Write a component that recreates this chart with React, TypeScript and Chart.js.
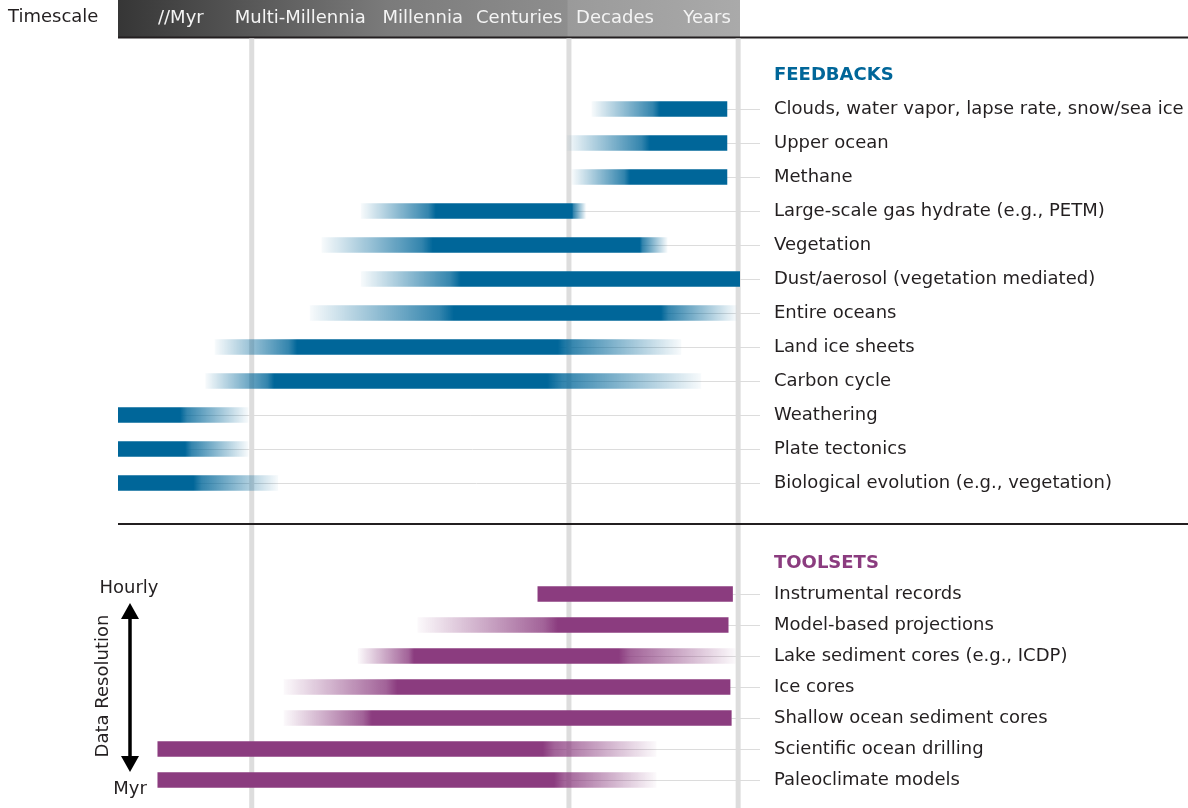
import React, { useEffect, useRef } from 'react';
import { Chart, registerables } from 'chart.js';

Chart.register(...registerables);

const FONT = '"DejaVu Sans", "Open Sans", sans-serif';
const TEXT = '#231f20';
const BLUE = '0,102,153';
const PURPLE = '139,60,127';

// Timescale header (x position on an abstract 0-100 timescale axis)
const timescaleTitle = 'Timescale';
const timescaleLabels = ['//Myr', 'Multi-Millennia', 'Millennia', 'Centuries', 'Decades', 'Years'];
const timescalePositions = [10.1, 29.3, 49.0, 64.5, 79.9, 94.7];
const timescaleBoundaries = [21.5, 72.5, 99.7];

// Feedbacks
const feedbackTitle = 'FEEDBACKS';
const feedbackLabels = [
  'Clouds, water vapor, lapse rate, snow/sea ice',
  'Upper ocean',
  'Methane',
  'Large-scale gas hydrate (e.g., PETM)',
  'Vegetation',
  'Dust/aerosol (vegetation mediated)',
  'Entire oceans',
  'Land ice sheets',
  'Carbon cycle',
  'Weathering',
  'Plate tectonics',
  'Biological evolution (e.g., vegetation)',
];
const feedbackStart = [76.2, 72.2, 73.0, 39.1, 32.8, 39.1, 30.9, 15.6, 14.1, 0, 0, 0];
const feedbackSolidFrom = [87.1, 85.5, 82.3, 51.1, 50.6, 55.1, 54.0, 28.8, 25.1, 0, 0, 0];
const feedbackSolidTo = [97.9, 97.9, 97.9, 73.0, 83.9, 100, 87.3, 70.7, 69.0, 10.0, 10.8, 12.1];
const feedbackEnd = [97.9, 97.9, 97.9, 75.2, 88.3, 100, 99.4, 90.5, 93.7, 20.9, 20.9, 25.7];

// Toolsets
const toolsetTitle = 'TOOLSETS';
const toolsetLabels = [
  'Instrumental records',
  'Model-based projections',
  'Lake sediment cores (e.g., ICDP)',
  'Ice cores',
  'Shallow ocean sediment cores',
  'Scientific ocean drilling',
  'Paleoclimate models',
];
const toolsetStart = [67.5, 48.2, 38.6, 26.7, 26.7, 6.4, 6.4];
const toolsetSolidFrom = [67.5, 70.7, 47.6, 44.9, 40.8, 6.4, 6.4];
const toolsetSolidTo = [98.8, 98.1, 80.5, 98.4, 98.6, 68.3, 70.1];
const toolsetEnd = [98.8, 98.1, 99.2, 98.4, 98.6, 86.5, 86.5];

// Data resolution annotation
const resolutionTitle = 'Data Resolution';
const resolutionHigh = 'Hourly';
const resolutionLow = 'Myr';

const GUIDE_END = 760;

function makeFill(rgb: string, starts: number[], solidFrom: number[], solidTo: number[], ends: number[]) {
  return (ctx: any) => {
    const solid = `rgb(${rgb})`;
    if (ctx.type !== 'data') return solid;
    const chart = ctx.chart;
    const xs = chart.scales && chart.scales.x;
    if (!xs || !chart.chartArea) return solid;
    const i = ctx.dataIndex;
    const x0 = xs.getPixelForValue(starts[i]);
    const x1 = xs.getPixelForValue(ends[i]);
    const a = xs.getPixelForValue(solidFrom[i]);
    const b = xs.getPixelForValue(solidTo[i]);
    if (![x0, x1, a, b].every((v) => Number.isFinite(v))) return solid;
    const len = Math.max(1, x1 - x0);
    const c = (al: number) => `rgba(${rgb},${al})`;
    const g = chart.ctx.createLinearGradient(x0, 0, x1, 0);
    const fadeIn = a > x0 + 0.5;
    const fadeOut = b < x1 - 0.5;
    g.addColorStop(0, fadeIn ? c(0.03) : c(1));
    if (fadeIn) {
      g.addColorStop(((a - x0) / len) * 0.9, c(0.8));
      g.addColorStop((a - x0) / len, c(1));
    }
    if (fadeOut) {
      g.addColorStop((b - x0) / len, c(1));
      g.addColorStop((b - x0) / len + ((x1 - b) / len) * 0.1, c(0.8));
    }
    g.addColorStop(1, fadeOut ? c(0.03) : c(1));
    return g;
  };
}

function drawGridAndGuides(chart: any, top: number, solidTo: number[]) {
  const { ctx } = chart;
  const xs = chart.scales.x;
  ctx.save();
  ctx.strokeStyle = '#dddddd';
  ctx.lineWidth = 5;
  timescaleBoundaries.forEach((v) => {
    const x = xs.getPixelForValue(v);
    ctx.beginPath();
    ctx.moveTo(x, top);
    ctx.lineTo(x, chart.height);
    ctx.stroke();
  });
  ctx.strokeStyle = '#dcdcdc';
  ctx.lineWidth = 1;
  const meta = chart.getDatasetMeta(0);
  meta.data.forEach((el: any, i: number) => {
    const y = Math.round(el.y) + 0.5;
    ctx.beginPath();
    ctx.moveTo(xs.getPixelForValue(solidTo[i]), y);
    ctx.lineTo(GUIDE_END, y);
    ctx.stroke();
  });
  ctx.restore();
}

function yAxis(titleColor: string) {
  return {
    type: 'category' as const,
    position: 'right' as const,
    afterFit: (s: any) => {
      s.width = 448;
      s.paddingTop = 10;
      s.paddingBottom = 10;
    },
    grid: { display: false, drawTicks: true, tickLength: 34 },
    border: { display: false },
    ticks: {
      padding: 0,
      crossAlign: 'near' as const,
      autoSkip: false,
      color: (c: any) => (c.index === 0 ? titleColor : TEXT),
      font: (c: any) =>
        c.index === 0 ? { family: FONT, size: 18, weight: 'bold' } : { family: FONT, size: 18 },
    },
  };
}

export default function App() {
  const refA = useRef<HTMLCanvasElement>(null);
  const refB = useRef<HTMLCanvasElement>(null);

  useEffect(() => {
    const headerPlugin = {
      id: 'header',
      beforeDraw(chart: any) {
        const { ctx, chartArea } = chart;
        const xs = chart.scales.x;
        const split = xs.getPixelForValue(timescaleBoundaries[1]) - 1;
        ctx.save();
        const g1 = ctx.createLinearGradient(chartArea.left, 0, split, 0);
        g1.addColorStop(0, '#363636');
        g1.addColorStop(0.6, '#7b7b7b');
        g1.addColorStop(1, '#8e8e8e');
        ctx.fillStyle = g1;
        ctx.fillRect(chartArea.left, 0, split - chartArea.left, 37);
        const g2 = ctx.createLinearGradient(split, 0, chartArea.right, 0);
        g2.addColorStop(0, '#9a9a9a');
        g2.addColorStop(1, '#aaaaaa');
        ctx.fillStyle = g2;
        ctx.fillRect(split, 0, chartArea.right - split, 37);
        ctx.strokeStyle = '#231f20';
        ctx.lineWidth = 2;
        ctx.beginPath();
        ctx.moveTo(chartArea.left, 37.5);
        ctx.lineTo(chart.width, 37.5);
        ctx.stroke();
        ctx.fillStyle = TEXT;
        ctx.font = `18px ${FONT}`;
        ctx.textBaseline = 'middle';
        ctx.textAlign = 'left';
        ctx.fillText(timescaleTitle, 8, 17);
        ctx.restore();
      },
      beforeDatasetsDraw(chart: any) {
        drawGridAndGuides(chart, 38.5, feedbackSolidTo);
      },
      afterDraw(chart: any) {
        const { ctx, chartArea } = chart;
        ctx.save();
        ctx.strokeStyle = '#231f20';
        ctx.lineWidth = 2;
        ctx.beginPath();
        ctx.moveTo(chartArea.left, chart.height - 1);
        ctx.lineTo(chart.width, chart.height - 1);
        ctx.stroke();
        ctx.restore();
      },
    };

    const toolsPlugin = {
      id: 'tools',
      beforeDatasetsDraw(chart: any) {
        drawGridAndGuides(chart, 0, toolsetSolidTo);
      },
      afterDraw(chart: any) {
        const { ctx } = chart;
        const off = 525;
        ctx.save();
        ctx.fillStyle = TEXT;
        ctx.strokeStyle = '#000';
        ctx.font = `18px ${FONT}`;
        ctx.textAlign = 'center';
        ctx.textBaseline = 'middle';
        ctx.fillText(resolutionHigh, 129, 588 - off);
        ctx.fillText(resolutionLow, 130, 789 - off);
        ctx.lineWidth = 3.5;
        ctx.beginPath();
        ctx.moveTo(130, 615 - off);
        ctx.lineTo(130, 760 - off);
        ctx.stroke();
        ctx.fillStyle = '#000';
        ctx.beginPath();
        ctx.moveTo(130, 603 - off);
        ctx.lineTo(139, 619 - off);
        ctx.lineTo(121, 619 - off);
        ctx.closePath();
        ctx.fill();
        ctx.beginPath();
        ctx.moveTo(130, 772 - off);
        ctx.lineTo(139, 756 - off);
        ctx.lineTo(121, 756 - off);
        ctx.closePath();
        ctx.fill();
        ctx.fillStyle = TEXT;
        ctx.translate(103, 686 - off);
        ctx.rotate(-Math.PI / 2);
        ctx.fillText(resolutionTitle, 0, 0);
        ctx.restore();
      },
    };

    const chartA = new Chart(refA.current!, {
      type: 'bar',
      data: {
        labels: [feedbackTitle, ...feedbackLabels],
        datasets: [
          {
            data: feedbackLabels.map((l, i) => ({ y: l, x: [feedbackStart[i], feedbackEnd[i]] })) as any,
            backgroundColor: makeFill(BLUE, feedbackStart, feedbackSolidFrom, feedbackSolidTo, feedbackEnd) as any,
            borderWidth: 0,
            barThickness: 15,
          },
        ],
      },
      options: {
        indexAxis: 'y',
        animation: false,
        responsive: false,
        layout: { padding: { top: 0, left: 118, right: 0, bottom: 25 } },
        plugins: { legend: { display: false }, tooltip: { enabled: false } },
        scales: {
          x: {
            type: 'linear',
            position: 'top',
            min: 0,
            max: 100,
            afterFit: (s: any) => {
              s.height = 58;
              s.paddingLeft = 0;
              s.paddingRight = 0;
            },
            afterBuildTicks: (s: any) => {
              s.ticks = timescalePositions.map((v) => ({ value: v }));
            },
            grid: { display: false, drawTicks: false },
            border: { display: false },
            ticks: {
              autoSkip: false,
              maxRotation: 0,
              minRotation: 0,
              padding: 29,
              color: '#f4f4f4',
              font: { family: FONT, size: 18 },
              callback: (_v: any, i: number) => timescaleLabels[i],
            },
          },
          y: yAxis(`rgb(${BLUE})`) as any,
        },
      },
      plugins: [headerPlugin],
    });

    const chartB = new Chart(refB.current!, {
      type: 'bar',
      data: {
        labels: [toolsetTitle, ...toolsetLabels],
        datasets: [
          {
            data: toolsetLabels.map((l, i) => ({ y: l, x: [toolsetStart[i], toolsetEnd[i]] })) as any,
            backgroundColor: makeFill(PURPLE, toolsetStart, toolsetSolidFrom, toolsetSolidTo, toolsetEnd) as any,
            borderWidth: 0,
            barThickness: 15,
          },
        ],
      },
      options: {
        indexAxis: 'y',
        animation: false,
        responsive: false,
        layout: { padding: { top: 22.5, left: 118, right: 0, bottom: 12.5 } },
        plugins: { legend: { display: false }, tooltip: { enabled: false } },
        scales: {
          x: { type: 'linear', display: false, min: 0, max: 100 },
          y: yAxis(`rgb(${PURPLE})`) as any,
        },
      },
      plugins: [toolsPlugin],
    });

    return () => {
      chartA.destroy();
      chartB.destroy();
    };
  }, []);

  return (
    <div style={{ position: 'absolute', left: 0, top: 0, width: 1188, height: 808, background: '#fff', overflow: 'hidden' }}>
      <canvas ref={refA} width={1188} height={525} style={{ position: 'absolute', left: 0, top: 0, display: 'block' }} />
      <canvas ref={refB} width={1188} height={283} style={{ position: 'absolute', left: 0, top: 525, display: 'block' }} />
    </div>
  );
}
